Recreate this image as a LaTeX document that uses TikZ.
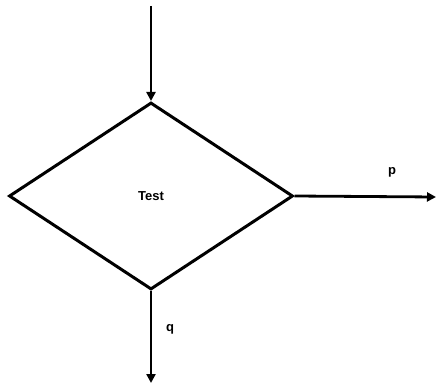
\documentclass[tikz,border=0pt]{standalone}
\usepackage{fontspec}
\setmainfont{Liberation Sans}
\usetikzlibrary{arrows.meta, shapes.geometric, positioning}

\begin{document}
\begin{tikzpicture}[
    x=1pt, y=-1pt,
    >={Triangle[width=9pt,length=9pt]},
    every node/.style={font=\bfseries\fontsize{13}{15}\selectfont},
    flow/.style={->, line width=2.8pt},
    testbox/.style={draw, diamond, line width=3pt, inner sep=0pt,
        minimum width=284pt, minimum height=187pt},
]
\useasboundingbox (0,0) rectangle (437,385);

% Decision
\node[testbox] (test) at (151,196) {Test};

% Entry and the two exits
\coordinate (entry) at (151,6);
\coordinate (pout) at (436,197);
\coordinate (qout) at (151,383);

\draw[flow] (entry) -- (test.north);
\draw[flow] (test.east) -- (pout);
\draw[flow] (test.south) -- (qout);

% Exit labels
\node (plabel) at (392,172) {p};
\node (qlabel) at (170,329) {q};

\end{tikzpicture}
\end{document}
